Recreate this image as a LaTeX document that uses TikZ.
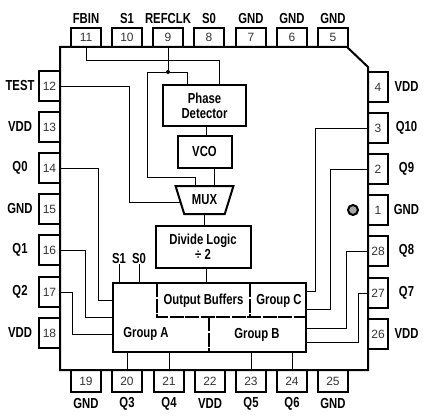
\documentclass[tikz,border=0pt]{standalone}
\usepackage{fontspec}
\usepackage{tikz}
\usetikzlibrary{positioning, shapes.geometric}
\newfontfamily\lblfont[FakeStretch=0.78]{Liberation Sans}
\newfontfamily\numfont{Liberation Sans}

\begin{document}
\begin{tikzpicture}[x=1pt, y=-1pt, outer sep=0pt, inner sep=0pt,
  lbl/.style={font=\lblfont\bfseries\fontsize{14.5}{15}\selectfont, align=center},
  pinbox/.style={draw, line width=2pt, font=\numfont\fontsize{12}{12}\selectfont, text=black!80},
  pintop/.style={pinbox, minimum width=30pt, minimum height=19pt, label={[lbl, anchor=center, yshift=9pt]90:#1}},
  pinbot/.style={pinbox, minimum width=30pt, minimum height=22pt, label={[lbl, anchor=center, yshift=-12pt]-90:#1}},
  pinleft/.style={pinbox, minimum width=21pt, minimum height=30pt, label={[lbl, anchor=center, xshift=-19pt]180:#1}},
  pinright/.style={pinbox, minimum width=20pt, minimum height=30pt, label={[lbl, anchor=center, xshift=18.5pt]0:#1}},
  block/.style={draw, line width=2pt, lbl},
  wire/.style={line width=0.9pt},
  inner/.style={line width=2pt, dash pattern=on 14pt off 1.5pt}]
  \useasboundingbox (0,0) rectangle (440,420);
  % package outline
  \draw[line width=2pt] (60,47) -- (347,47) -- (368,67) -- (368,370) -- (60,370) -- cycle;
  % pins
  \node[pintop=FBIN] (p11) at (86,37.5) {11};
  \node[pintop=S1] (p10) at (127,37.5) {10};
  \node[pintop=REFCLK] (p9) at (168,37.5) {9};
  \node[pintop=S0] (p8) at (209,37.5) {8};
  \node[pintop=GND] (p7) at (251,37.5) {7};
  \node[pintop=GND] (p6) at (292,37.5) {6};
  \node[pintop=GND] (p5) at (333,37.5) {5};
  \node[pinleft=TEST] (p12) at (49.5,86) {12};
  \node[pinleft=VDD] (p13) at (49.5,127) {13};
  \node[pinleft=Q0] (p14) at (49.5,168) {14};
  \node[pinleft=GND] (p15) at (49.5,209) {15};
  \node[pinleft=Q1] (p16) at (49.5,250) {16};
  \node[pinleft=Q2] (p17) at (49.5,292) {17};
  \node[pinleft=VDD] (p18) at (49.5,333) {18};
  \node[pinright=VDD] (p4) at (378,87) {4};
  \node[pinright=Q10] (p3) at (378,128) {3};
  \node[pinright=Q9] (p2) at (378,169) {2};
  \node[pinright=GND] (p1) at (378,210) {1};
  \node[pinright=Q8] (p28) at (378,251) {28};
  \node[pinright=Q7] (p27) at (378,293) {27};
  \node[pinright=VDD] (p26) at (378,334) {26};
  \node[pinbot=GND] (p19) at (86,381) {19};
  \node[pinbot=Q3] (p20) at (127,381) {20};
  \node[pinbot=Q4] (p21) at (169,381) {21};
  \node[pinbot=VDD] (p22) at (210,381) {22};
  \node[pinbot=Q5] (p23) at (251,381) {23};
  \node[pinbot=Q6] (p24) at (292,381) {24};
  \node[pinbot=GND] (p25) at (333,381) {25};
  % blocks
  \node[block, minimum width=83pt, minimum height=41pt] (pd) at (204.5,105.5) {Phase\\Detector};
  \node[block, minimum width=54pt, minimum height=32pt, below=10pt of pd] (vco) {VCO};
  \node[block, trapezium, shape border rotate=180, trapezium stretches=true, trapezium angle=62,
    minimum width=58pt, minimum height=28pt, below=18pt of vco] (mux) {MUX};
  \node[block, minimum width=95pt, minimum height=42pt, below=12pt of mux, xshift=-1.5pt] (div) {Divide Logic\\÷ 2};
  \node[block, minimum width=193pt, minimum height=69pt] (drv) at (209.5,317.5) {};
  \node[lbl] (obuf) at (203.5,300.5) {Output Buffers};
  \node[lbl] (grpa) at (146,333.5) {Group A};
  \node[lbl] (grpb) at (257,335) {Group B};
  \node[lbl] (grpc) at (279,300.5) {Group C};
  \node[lbl] (s1) at (119,259) {S1};
  \node[lbl] (s0) at (139,259) {S0};
  \node[circle, draw, line width=2pt, fill=black!35, minimum size=10pt] (mark) at (353,210) {};
  \node[circle, fill=black, minimum size=4pt] (tap) at (168,72) {};
  \coordinate (fbk) at (147,177);
  % dashed partitions
  \draw[inner] (157,283) -- (157,317) -- (306,317);
  \draw[inner] (250,283) -- (250,317);
  \draw[inner] (209,317) -- (209,352);
  % wires
  \draw[wire] (p11.south) -- ++(0,13) -| ([xshift=14.5pt]pd.north);
  \draw[wire] (p9.south) -- (tap);
  \draw[wire] (tap) -| ([xshift=-17.5pt]pd.north);
  \draw[wire] (tap) -| (fbk) -| ([xshift=-9pt]mux.north);
  \draw[wire] (p12.east) -- ++(69,0) |- ([yshift=-2pt]mux.west);
  \draw[wire] ([xshift=1.5pt]pd.south) -- ([xshift=1.5pt]pd.south |- vco.north);
  \draw[wire] ([xshift=10pt]vco.south) -- ([xshift=10pt]vco.south |- mux.north);
  \draw[wire] (mux.south) -- (mux.south |- div.north);
  \draw[wire] ([xshift=3.5pt]div.south) -- ([xshift=3.5pt]div.south |- drv.north);
  \draw[wire] (s1.south) -- (s1.south |- drv.north);
  \draw[wire] (s0.south) -- (s0.south |- drv.north);
  \draw[wire] (p14.east) -- ++(38,0) |- ([yshift=17.5pt]drv.west);
  \draw[wire] (p16.east) -- ++(25,0) |- (drv.west);
  \draw[wire] (p17.east) -- ++(12,0) |- ([yshift=-16.5pt]drv.west);
  \draw[wire] (p3.west) -- ++(-53,0) |- ([yshift=26.5pt]drv.east);
  \draw[wire] (p2.west) -- ++(-38,0) |- ([yshift=8.5pt]drv.east);
  \draw[wire] (p28.west) -- ++(-22,0) |- ([yshift=-10.5pt]drv.east);
  \draw[wire] (p27.west) -- ++(-10,0) |- ([yshift=-24.5pt]drv.east);
  \draw[wire] (p20.north) -- (p20.north |- drv.south);
  \draw[wire] (p21.north) -- (p21.north |- drv.south);
  \draw[wire] (p23.north) -- (p23.north |- drv.south);
  \draw[wire] (p24.north) -- (p24.north |- drv.south);
\end{tikzpicture}
\end{document}
